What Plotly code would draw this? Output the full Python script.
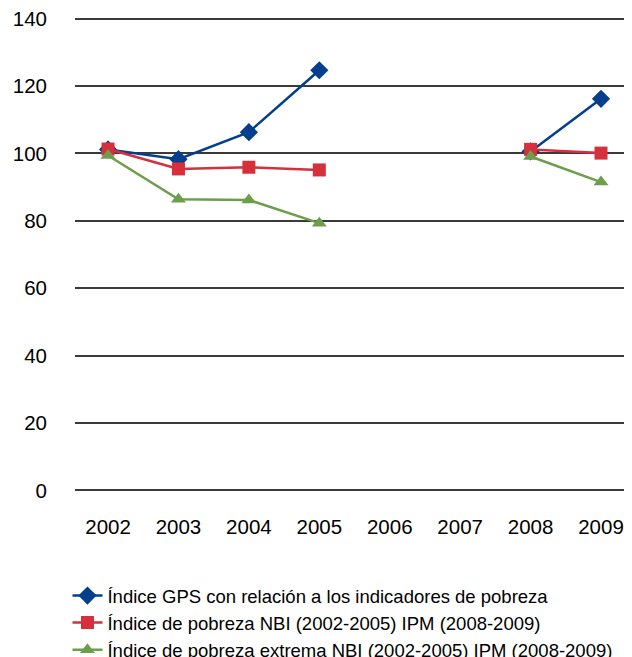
import plotly.graph_objects as go

years = ["2002", "2003", "2004", "2005", "2006", "2007", "2008", "2009"]
gps = [101.2, 98.3, 106.3, 124.7, None, None, 100.6, 116.2]
nbi = [101.3, 95.4, 95.9, 95.1, None, None, 101.2, 100.1]
extrema = [99.4, 86.4, 86.2, 79.3, None, None, 99.1, 91.5]
names = [
    "Índice GPS con relación a los indicadores de pobreza",
    "Índice de pobreza NBI (2002-2005) IPM (2008-2009)",
    "Índice de pobreza extrema NBI (2002-2005) IPM (2008-2009)",
]
y_ticks = [0, 20, 40, 60, 80, 100, 120, 140]

fig = go.Figure()
fig.add_trace(go.Scatter(x=years, y=gps, name=names[0], mode="lines+markers",
                         line=dict(color="#033F8D", width=2.5),
                         marker=dict(symbol="diamond", size=14, color="#033F8D"),
                         connectgaps=False))
fig.add_trace(go.Scatter(x=years, y=nbi, name=names[1], mode="lines+markers",
                         line=dict(color="#D5303C", width=2.5),
                         marker=dict(symbol="square", size=13, color="#D5303C"),
                         connectgaps=False))
fig.add_trace(go.Scatter(x=years, y=extrema, name=names[2], mode="lines+markers",
                         line=dict(color="#6C9E4B", width=2.5),
                         marker=dict(symbol="triangle-up", size=13, color="#6C9E4B"),
                         connectgaps=False))

fig.update_layout(
    width=624, height=649,
    margin=dict(l=67, r=0, t=9, b=165, autoexpand=False),
    paper_bgcolor="white", plot_bgcolor="white",
    font=dict(family="Liberation Sans, Arial, sans-serif", size=20.5, color="#000000"),
    showlegend=True,
    legend=dict(x=-0.0135, y=-0.179, xanchor="left", yanchor="top",
                font=dict(size=18.5), tracegroupgap=0, bgcolor="rgba(0,0,0,0)"),
    xaxis=dict(type="category", categoryorder="array", categoryarray=years,
               range=[-0.469, 7.44], showgrid=False, showline=False, zeroline=False,
               ticks="", ticklabelstandoff=20, ticklabeloverflow="allow"),
    yaxis=dict(range=[-0.5, 140.5], tickvals=y_ticks, showgrid=True,
               gridcolor="#3a3a3a", gridwidth=1.5, zeroline=False, showline=False,
               ticks="", ticklabelstandoff=27, ticklabeloverflow="allow"),
)

fig.write_html("out.html")
